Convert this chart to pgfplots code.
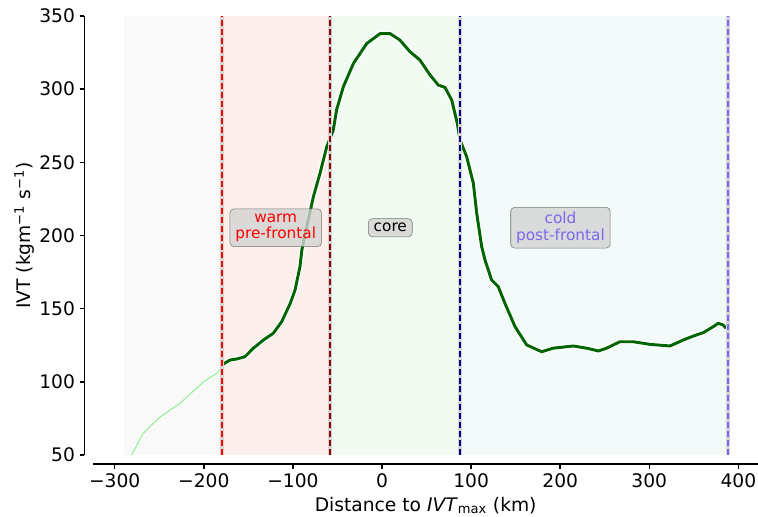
\documentclass[border=0pt]{standalone}
\usepackage{fontspec}
\setmainfont{DejaVu Sans}
\usepackage{pgfplots}
\pgfplotsset{compat=1.18}

\definecolor{shgray}{HTML}{F9F9F9}
\definecolor{shred}{HTML}{FDF0EC}
\definecolor{shgreen}{HTML}{F1FBF1}
\definecolor{shcyan}{HTML}{F3FAFA}
\definecolor{dkgreen}{HTML}{006400}
\definecolor{ltgreen}{HTML}{90EE90}
\definecolor{dkred}{HTML}{8B0000}
\definecolor{navyblue}{HTML}{000080}
\definecolor{mslate}{HTML}{7B68EE}
\definecolor{boxfill}{HTML}{D3D3D3}

\begin{document}
\begin{tikzpicture}
\useasboundingbox (0,0) rectangle (568.5pt,387.75pt);
\begin{axis}[
    at={(70pt,46.5pt)}, anchor=south west,
    scale only axis, width=498.5pt, height=329.25pt,
    xmin=-324, xmax=422, ymin=50, ymax=350,
    axis x line*=bottom, axis y line*=left,
    axis line style={line width=1.1pt,-},
    x axis line style={yshift=-6.75pt},
    y axis line style={xshift=-6.75pt},
    xtick={-300,-200,...,400},
    xticklabels={−300,−200,−100,0,100,200,300,400},
    ytick={50,100,...,350},
    tick align=outside, major tick length=3.5pt,
    xtick style={yshift=-6.75pt, line width=1.1pt, black},
    ytick style={xshift=-6.75pt, line width=1.1pt, black},
    xticklabel style={yshift=-6.75pt},
    yticklabel style={xshift=-6.75pt},
    tick label style={font=\fontsize{14}{16}\selectfont},
    /pgf/number format/assume math mode=true,
    xlabel={Distance to \textit{IVT}\textsubscript{max} (km)},
    ylabel={IVT (kgm\textsuperscript{−1} s\textsuperscript{−1})},
    every axis x label/.style={at={(axis description cs:0.5,-0.1276)}, anchor=base, font=\fontsize{14}{16}\selectfont},
    every axis y label/.style={at={(axis description cs:-0.1035,0.5)}, rotate=90, anchor=center, font=\fontsize{14}{16}\selectfont},
]
% region shading
\addplot[fill=shgray, draw=none] coordinates {(-290,50) (-180,50) (-180,350) (-290,350)} -- cycle;
\addplot[fill=shred, draw=none] coordinates {(-180,50) (-58,50) (-58,350) (-180,350)} -- cycle;
\addplot[fill=shgreen, draw=none] coordinates {(-58,50) (87,50) (87,350) (-58,350)} -- cycle;
\addplot[fill=shcyan, draw=none] coordinates {(87,50) (388,50) (388,350) (87,350)} -- cycle;

% IVT profile before the warm sector
\addplot[white, line width=2pt] coordinates {
 (-292,40) (-281,50) (-268,64.8) (-256.7,71.6) (-249,76) (-238,80.7) (-226.7,85.3)
 (-219,89.8) (-204,97.8) (-200.6,100) (-185.5,105.8) (-180,109.5)};
\addplot[ltgreen, line width=0.8pt] coordinates {
 (-292,40) (-281,50) (-268,64.8) (-256.7,71.6) (-249,76) (-238,80.7) (-226.7,85.3)
 (-219,89.8) (-204,97.8) (-200.6,100) (-185.5,105.8) (-180,109.5)};

% IVT profile, frontal sectors
\addplot[white, line width=4pt, line join=round] coordinates {
 (-180,112) (-178,112.2) (-170.6,114.9) (-163,115.6) (-153.8,117.2) (-144.4,123) (-133,128.6)
 (-122,133.2) (-112.6,141.1) (-103,153.6) (-97.6,162.8) (-92,178.9) (-90,190) (-84.5,206)
 (-77,226.5) (-69.6,242.5) (-62,260.7) (-56,270) (-54.7,272) (-51,285.8) (-43.4,301.7)
 (-32,317.7) (-17,331.3) (-2,338) (9,338) (20,333.6) (31.4,325.6) (42.6,319.9) (53.9,309.7)
 (63.2,302.8) (70.7,301.2) (78.2,292.6) (84.5,276.7) (87.5,265.3) (95,253.9) (102.5,235.7)
 (106.3,215.2) (111.9,192.3) (115.6,183.3) (123,169.6) (130.5,165) (138,153.6) (149.3,137.7)
 (162.4,125.2) (179.2,120.6) (192.3,123) (214.7,124.5) (229.7,123) (242.8,121.1) (252.1,123)
 (267,127.4) (282,127.4) (300.8,125.6) (323.2,124.5) (338.2,128.6) (349.4,131.3) (360.6,133.6)
 (371.8,137.7) (377.4,140) (383,138.8) (386,136.6)};
\addplot[dkgreen, line width=2.2pt, line join=round] coordinates {
 (-180,112) (-178,112.2) (-170.6,114.9) (-163,115.6) (-153.8,117.2) (-144.4,123) (-133,128.6)
 (-122,133.2) (-112.6,141.1) (-103,153.6) (-97.6,162.8) (-92,178.9) (-90,190) (-84.5,206)
 (-77,226.5) (-69.6,242.5) (-62,260.7) (-56,270) (-54.7,272) (-51,285.8) (-43.4,301.7)
 (-32,317.7) (-17,331.3) (-2,338) (9,338) (20,333.6) (31.4,325.6) (42.6,319.9) (53.9,309.7)
 (63.2,302.8) (70.7,301.2) (78.2,292.6) (84.5,276.7) (87.5,265.3) (95,253.9) (102.5,235.7)
 (106.3,215.2) (111.9,192.3) (115.6,183.3) (123,169.6) (130.5,165) (138,153.6) (149.3,137.7)
 (162.4,125.2) (179.2,120.6) (192.3,123) (214.7,124.5) (229.7,123) (242.8,121.1) (252.1,123)
 (267,127.4) (282,127.4) (300.8,125.6) (323.2,124.5) (338.2,128.6) (349.4,131.3) (360.6,133.6)
 (371.8,137.7) (377.4,140) (383,138.8) (386,136.6)};

% sector boundaries
\addplot[black!17, line width=3pt] coordinates {(-180,50) (-180,350)};
\addplot[red, line width=1.5pt, dash pattern=on 4.5pt off 2.2pt] coordinates {(-180,50) (-180,350)};
\addplot[black!17, line width=3pt] coordinates {(-58,50) (-58,350)};
\addplot[dkred, line width=1.5pt, dash pattern=on 4.5pt off 2.2pt] coordinates {(-58,50) (-58,350)};
\addplot[black!17, line width=3pt] coordinates {(87,50) (87,350)};
\addplot[navyblue, line width=1.5pt, dash pattern=on 4.5pt off 2.2pt] coordinates {(87,50) (87,350)};
\addplot[black!17, line width=3pt] coordinates {(388,50) (388,350)};
\addplot[mslate, line width=1.5pt, dash pattern=on 4.5pt off 2.2pt] coordinates {(388,50) (388,350)};

% sector labels
\tikzset{sect/.style={draw=black!65, draw opacity=0.8, fill=boxfill, fill opacity=0.8, text opacity=1,
  rounded corners=3pt, inner xsep=4pt, inner ysep=3.5pt, align=center,
  font=\fontsize{11.5}{12.5}\selectfont}}
\node[sect, text=red] at (axis cs:-119.3,205.3) {warm\\pre-frontal};
\node[sect, text=black] at (axis cs:9.3,205.3) {core};
\node[sect, text=mslate] at (axis cs:200.3,205.3) {cold\\post-frontal};
\end{axis}
\end{tikzpicture}
\end{document}
